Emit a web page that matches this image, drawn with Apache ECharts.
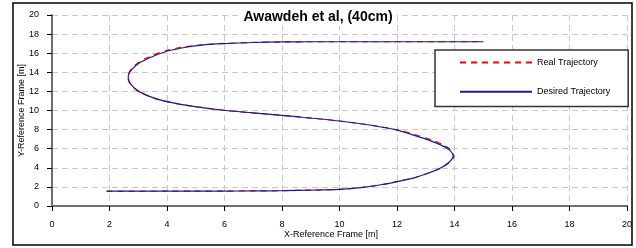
<!DOCTYPE html>
<html lang="en">
<head>
    <meta charset="UTF-8">
    <title>Awawdeh et al, (40cm)</title>
    <style>
        html, body { margin: 0; padding: 0; background: #fff; }
        div#main { width: 636px; height: 248px; }
    </style>
</head>
<body>
    <div id="main"></div>
    <script src="https://cdn.jsdelivr.net/npm/echarts@6/dist/echarts.min.js"></script>
    <script>
        // values, [x, y] in metres, in path order
        const desired = [
            [1.9, 1.55], [3, 1.55], [4, 1.55], [5, 1.55], [6, 1.56], [7, 1.58], [8, 1.6], [9, 1.66],
            [10, 1.75], [10.8, 1.95], [11.5, 2.25], [12, 2.55], [12.6, 2.95], [13.1, 3.45], [13.5, 3.95],
            [13.8, 4.55], [13.95, 5.2], [13.85, 5.8], [13.55, 6.35], [13.15, 6.85], [12.6, 7.4], [12, 7.95],
            [11.2, 8.4], [10, 8.9], [8.5, 9.35], [6.9, 9.77], [5.9, 10.05], [5.1, 10.35], [4.3, 10.75],
            [3.6, 11.25], [3.05, 11.95], [2.75, 12.7], [2.65, 13.5], [2.78, 14.3], [3.05, 15.0], [3.5, 15.65],
            [4, 16.2], [4.6, 16.6], [5.2, 16.85], [6, 17.0], [7, 17.12], [8, 17.18], [9, 17.2], [11, 17.2],
            [13, 17.2], [15, 17.2]
        ];
        const real = [
            [1.9, 1.54], [3, 1.54], [4, 1.55], [5, 1.55], [6, 1.56], [7, 1.58], [8, 1.6], [9, 1.66],
            [10, 1.75], [10.8, 1.96], [11.5, 2.26], [12, 2.56], [12.6, 2.96], [13.1, 3.45], [13.5, 3.95],
            [13.82, 4.55], [13.98, 5.2], [13.9, 5.8], [13.62, 6.38], [13.22, 6.9], [12.65, 7.44], [12.02, 7.97],
            [11.2, 8.41], [10, 8.9], [8.5, 9.35], [6.9, 9.77], [5.9, 10.05], [5.1, 10.35], [4.3, 10.75],
            [3.6, 11.25], [3.04, 11.95], [2.74, 12.7], [2.63, 13.5], [2.75, 14.33], [3.02, 15.06], [3.46, 15.72],
            [3.97, 16.27], [4.57, 16.65], [5.2, 16.88], [6, 17.02], [7, 17.13], [8, 17.18], [9, 17.2],
            [11, 17.2], [13, 17.2], [15, 17.2]
        ];
        const seriesNames = ['Real Trajectory', 'Desired Trajectory'];

        const myChart = echarts.init(document.getElementById('main'));
        const font = 'Liberation Sans, Arial, sans-serif';

        const axisCommon = {
            type: 'value',
            min: 0,
            max: 20,
            interval: 2,
            nameLocation: 'middle',
            nameMoveOverlap: false,
            nameTextStyle: { fontFamily: font, fontSize: 9, color: '#000' },
            axisLine: { show: true, onZero: false, lineStyle: { color: '#6f6f6f', width: 2 } },
            axisTick: { show: true, length: 5, lineStyle: { color: '#000', width: 1 } },
            axisLabel: { fontFamily: font, fontSize: 9, color: '#000' },
            splitLine: { show: true, lineStyle: { color: '#c8c8c8', type: [6, 4], width: 1 } }
        };

        const option = {
            backgroundColor: '#fff',
            animation: false,
            title: {
                text: 'Awawdeh et al, (40cm)',
                left: 'center',
                top: 8,
                padding: [2, 4],
                backgroundColor: '#fff',
                textStyle: { fontFamily: font, fontSize: 14, fontWeight: 'bold', color: '#000' }
            },
            grid: { left: 52, right: 9, top: 15, bottom: 42 },
            xAxis: Object.assign({}, axisCommon, {
                name: 'X-Reference Frame [m]',
                nameGap: 24,
                nameTextStyle: Object.assign({}, axisCommon.nameTextStyle, { padding: [0, 17, 0, 0] }),
                axisLabel: Object.assign({}, axisCommon.axisLabel, { margin: 14 })
            }),
            yAxis: Object.assign({}, axisCommon, {
                name: 'Y-Reference Frame [m]',
                nameGap: 26,
                axisLabel: Object.assign({}, axisCommon.axisLabel, { margin: 13 })
            }),
            legend: {
                orient: 'vertical',
                left: 435,
                top: 50,
                padding: [7, 18, 9, 24],
                itemGap: 18,
                itemWidth: 72,
                itemHeight: 14,
                backgroundColor: '#fff',
                borderColor: '#333',
                borderWidth: 1.5,
                itemStyle: { opacity: 0 },
                textStyle: { fontFamily: font, fontSize: 9, color: '#000' },
                data: seriesNames
            },
            graphic: [{
                type: 'rect',
                shape: { x: 13, y: 3, width: 619, height: 242 },
                style: { fill: 'none', stroke: '#000', lineWidth: 1.5 },
                silent: true,
                z: 100
            }],
            series: [
                {
                    name: seriesNames[0],
                    type: 'line',
                    data: real,
                    smooth: 0.3,
                    symbol: 'none',
                    itemStyle: { color: '#ff0000' },
                    lineStyle: { color: '#ff0000', width: 1.2, type: [6, 5] },
                    z: 2
                },
                {
                    name: seriesNames[1],
                    type: 'line',
                    data: desired,
                    smooth: 0.3,
                    symbol: 'none',
                    itemStyle: { color: '#1c1c8a' },
                    lineStyle: { color: '#1c1c8a', width: 1.2 },
                    z: 3
                }
            ]
        };

        myChart.setOption(option);
    </script>
</body>
</html>
